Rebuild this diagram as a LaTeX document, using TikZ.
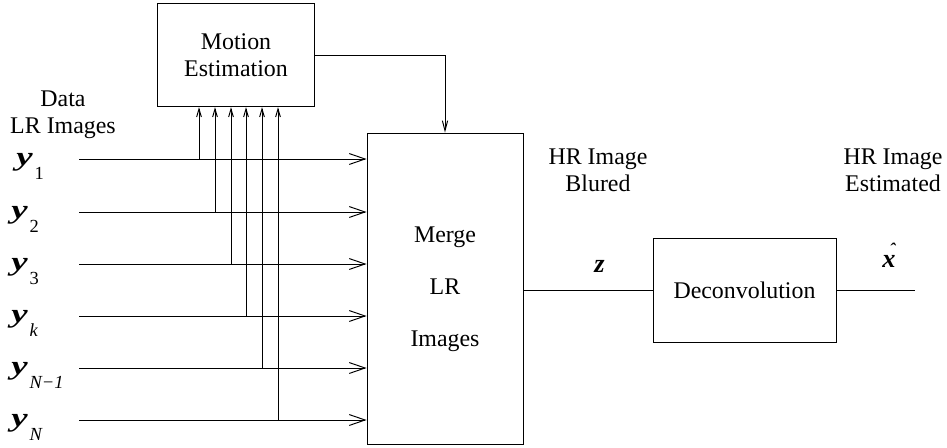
\documentclass[tikz,border=0pt]{standalone}
\usepackage{fontspec}
\setmainfont{Liberation Serif}
\usetikzlibrary{arrows.meta}

\tikzset{
  blk/.style={draw, inner sep=0pt, align=center},
  txt/.style={font=\fontsize{13.6}{15.5}\selectfont, align=center},
  sig/.style={font=\fontsize{15}{15}\selectfont, inner sep=0pt, anchor=base west},
  bigbarb/.style={-{Straight Barb[length=9pt,width=6.2pt]}},
  midbarb/.style={-{Straight Barb[length=5.7pt,width=3pt]}},
  smallbarb/.style={-{Straight Barb[length=4.6pt,width=2.7pt]}},
}
\newcommand{\ysub}[1]{\scalebox{1.4}[1]{\bfseries\itshape y}\kern1pt\raisebox{-8.5pt}{\fontsize{10.5}{10.5}\selectfont #1}}

\begin{document}
\begin{tikzpicture}[x=0.02cm,y=-0.02cm,line width=0.55pt]
        \useasboundingbox (0,0) rectangle (947,447);

        % blocks
        \node[blk, txt, minimum width=3.14cm, minimum height=2.07cm] (motion) at (236,55) {Motion\\Estimation};
        \node[blk, font=\fontsize{13.6}{29.6}\selectfont, minimum width=3.12cm, minimum height=6.24cm] (merge) at (445,289) {Merge\\LR\\Images};
        \node[blk, txt, minimum width=3.66cm, minimum height=2.08cm] (deconv) at (744.5,290) {Deconvolution};

        % inputs and taps to the motion estimation
        \foreach \y [count=\i] in {159,212,264,316,368,420} {
            \coordinate (in\i) at (79,\y);
            \draw[bigbarb] (in\i) -- (in\i -| merge.west);
        }
        \foreach \x/\y [count=\i] in {199/159,215/212,231/264,246/316,262/368,278/420} {
            \coordinate (tap\i) at (\x,\y);
            \draw[smallbarb] (tap\i) -- (tap\i |- motion.south);
        }
        \draw[midbarb] (motion.east) -| (merge.north);
        \draw (merge.east |- deconv.west) -- (deconv.west);
        \coordinate (out) at (915,290);
        \draw (deconv.east) -- (out);

        % labels
        \node[txt] (data) at (63,115) {Data\\LR Images};
        \node[txt] (blur) at (598,170) {HR Image\\Blured};
        \node[txt] (est) at (893,170) {HR Image\\Estimated};
        \node[sig] (y1) at (16,165) {\ysub{1}};
        \node[sig] (y2) at (11,218) {\ysub{2}};
        \node[sig] (y3) at (11,270) {\ysub{3}};
        \node[sig] (yk) at (11,322) {\ysub{\itshape k}};
        \node[sig] (yn1) at (11,374) {\ysub{\itshape N−1}};
        \node[sig] (yn) at (11,426) {\ysub{\itshape N}};
        \node[sig] (z) at (594,272) {\bfseries\itshape z};
        \node[sig] (xhat) at (882,267) {\bfseries\itshape \rlap{\kern4pt\raisebox{6.5pt}{\fontsize{10}{10}\selectfont ˆ}}x};
\end{tikzpicture}
\end{document}
